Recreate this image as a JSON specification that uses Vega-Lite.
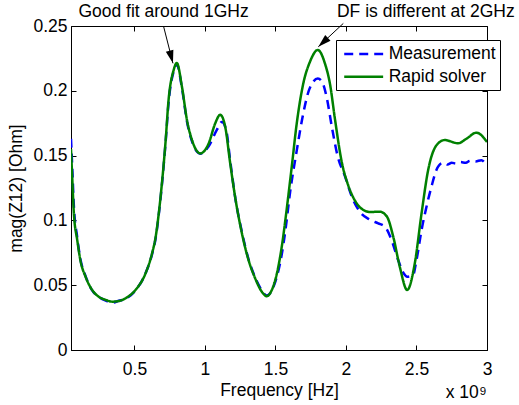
{
  "$schema": "https://vega.github.io/schema/vega-lite/v6.json",
  "width": 416,
  "height": 324,
  "autosize": {"type": "none"},
  "padding": {"left": 71, "top": 26, "right": 32, "bottom": 55},
  "background": "white",
  "config": {
    "font": "Liberation Sans",
    "view": {"stroke": "black", "strokeWidth": 1},
    "axis": {
      "labelFont": "Liberation Sans",
      "titleFont": "Liberation Sans",
      "labelFontSize": 17.5,
      "titleFontSize": 17.5,
      "titleFontWeight": "normal",
      "labelColor": "black",
      "titleColor": "black",
      "domainColor": "black",
      "ticks": false,
      "labelFlush": false,
      "grid": true,
      "gridColor": "black",
      "gridOpacity": 1,
      "gridWidth": 1
    },
    "legend": {
      "labelFont": "Liberation Sans",
      "labelFontSize": 17.5,
      "labelColor": "black"
    }
  },
  "datasets": {
    "curves": [
      {"freq": 0.05, "mag": 0.163, "series": "Measurement"},
      {"freq": 0.06, "mag": 0.138, "series": "Measurement"},
      {"freq": 0.07, "mag": 0.112, "series": "Measurement"},
      {"freq": 0.094, "mag": 0.087, "series": "Measurement"},
      {"freq": 0.117, "mag": 0.07, "series": "Measurement"},
      {"freq": 0.153, "mag": 0.057, "series": "Measurement"},
      {"freq": 0.2, "mag": 0.046, "series": "Measurement"},
      {"freq": 0.247, "mag": 0.041, "series": "Measurement"},
      {"freq": 0.3, "mag": 0.038, "series": "Measurement"},
      {"freq": 0.342, "mag": 0.0365, "series": "Measurement"},
      {"freq": 0.39, "mag": 0.038, "series": "Measurement"},
      {"freq": 0.436, "mag": 0.0395, "series": "Measurement"},
      {"freq": 0.507, "mag": 0.046, "series": "Measurement"},
      {"freq": 0.578, "mag": 0.059, "series": "Measurement"},
      {"freq": 0.625, "mag": 0.074, "series": "Measurement"},
      {"freq": 0.65, "mag": 0.086, "series": "Measurement"},
      {"freq": 0.672, "mag": 0.104, "series": "Measurement"},
      {"freq": 0.696, "mag": 0.129, "series": "Measurement"},
      {"freq": 0.72, "mag": 0.159, "series": "Measurement"},
      {"freq": 0.742, "mag": 0.191, "series": "Measurement"},
      {"freq": 0.778, "mag": 0.215, "series": "Measurement"},
      {"freq": 0.8, "mag": 0.2205, "series": "Measurement"},
      {"freq": 0.837, "mag": 0.202, "series": "Measurement"},
      {"freq": 0.873, "mag": 0.176, "series": "Measurement"},
      {"freq": 0.908, "mag": 0.161, "series": "Measurement"},
      {"freq": 0.967, "mag": 0.1515, "series": "Measurement"},
      {"freq": 1.025, "mag": 0.157, "series": "Measurement"},
      {"freq": 1.085, "mag": 0.17, "series": "Measurement"},
      {"freq": 1.12, "mag": 0.176, "series": "Measurement"},
      {"freq": 1.15, "mag": 0.17, "series": "Measurement"},
      {"freq": 1.179, "mag": 0.146, "series": "Measurement"},
      {"freq": 1.214, "mag": 0.118, "series": "Measurement"},
      {"freq": 1.262, "mag": 0.091, "series": "Measurement"},
      {"freq": 1.309, "mag": 0.07, "series": "Measurement"},
      {"freq": 1.356, "mag": 0.056, "series": "Measurement"},
      {"freq": 1.403, "mag": 0.046, "series": "Measurement"},
      {"freq": 1.439, "mag": 0.042, "series": "Measurement"},
      {"freq": 1.474, "mag": 0.046, "series": "Measurement"},
      {"freq": 1.51, "mag": 0.0566, "series": "Measurement"},
      {"freq": 1.545, "mag": 0.074, "series": "Measurement"},
      {"freq": 1.57, "mag": 0.092, "series": "Measurement"},
      {"freq": 1.604, "mag": 0.122, "series": "Measurement"},
      {"freq": 1.651, "mag": 0.154, "series": "Measurement"},
      {"freq": 1.698, "mag": 0.183, "series": "Measurement"},
      {"freq": 1.733, "mag": 0.199, "series": "Measurement"},
      {"freq": 1.768, "mag": 0.207, "series": "Measurement"},
      {"freq": 1.8, "mag": 0.2095, "series": "Measurement"},
      {"freq": 1.83, "mag": 0.207, "series": "Measurement"},
      {"freq": 1.863, "mag": 0.195, "series": "Measurement"},
      {"freq": 1.9, "mag": 0.172, "series": "Measurement"},
      {"freq": 1.94, "mag": 0.15, "series": "Measurement"},
      {"freq": 1.993, "mag": 0.134, "series": "Measurement"},
      {"freq": 2.05, "mag": 0.116, "series": "Measurement"},
      {"freq": 2.1, "mag": 0.1065, "series": "Measurement"},
      {"freq": 2.17, "mag": 0.1005, "series": "Measurement"},
      {"freq": 2.229, "mag": 0.0977, "series": "Measurement"},
      {"freq": 2.276, "mag": 0.0951, "series": "Measurement"},
      {"freq": 2.323, "mag": 0.0849, "series": "Measurement"},
      {"freq": 2.37, "mag": 0.0694, "series": "Measurement"},
      {"freq": 2.41, "mag": 0.059, "series": "Measurement"},
      {"freq": 2.434, "mag": 0.0566, "series": "Measurement"},
      {"freq": 2.476, "mag": 0.0579, "series": "Measurement"},
      {"freq": 2.5, "mag": 0.0694, "series": "Measurement"},
      {"freq": 2.536, "mag": 0.0926, "series": "Measurement"},
      {"freq": 2.571, "mag": 0.1106, "series": "Measurement"},
      {"freq": 2.606, "mag": 0.126, "series": "Measurement"},
      {"freq": 2.642, "mag": 0.139, "series": "Measurement"},
      {"freq": 2.677, "mag": 0.144, "series": "Measurement"},
      {"freq": 2.7, "mag": 0.1445, "series": "Measurement"},
      {"freq": 2.72, "mag": 0.1432, "series": "Measurement"},
      {"freq": 2.75, "mag": 0.1445, "series": "Measurement"},
      {"freq": 2.78, "mag": 0.1438, "series": "Measurement"},
      {"freq": 2.81, "mag": 0.145, "series": "Measurement"},
      {"freq": 2.85, "mag": 0.1445, "series": "Measurement"},
      {"freq": 2.88, "mag": 0.146, "series": "Measurement"},
      {"freq": 2.92, "mag": 0.1455, "series": "Measurement"},
      {"freq": 2.96, "mag": 0.1465, "series": "Measurement"},
      {"freq": 2.98, "mag": 0.145, "series": "Measurement"},
      {"freq": 3.0, "mag": 0.1414, "series": "Measurement"},

      {"freq": 0.05, "mag": 0.155, "series": "Rapid solver"},
      {"freq": 0.06, "mag": 0.13, "series": "Rapid solver"},
      {"freq": 0.07, "mag": 0.106, "series": "Rapid solver"},
      {"freq": 0.094, "mag": 0.085, "series": "Rapid solver"},
      {"freq": 0.117, "mag": 0.069, "series": "Rapid solver"},
      {"freq": 0.153, "mag": 0.0566, "series": "Rapid solver"},
      {"freq": 0.2, "mag": 0.0463, "series": "Rapid solver"},
      {"freq": 0.247, "mag": 0.0411, "series": "Rapid solver"},
      {"freq": 0.3, "mag": 0.0385, "series": "Rapid solver"},
      {"freq": 0.342, "mag": 0.0373, "series": "Rapid solver"},
      {"freq": 0.39, "mag": 0.0378, "series": "Rapid solver"},
      {"freq": 0.436, "mag": 0.0399, "series": "Rapid solver"},
      {"freq": 0.507, "mag": 0.0463, "series": "Rapid solver"},
      {"freq": 0.578, "mag": 0.059, "series": "Rapid solver"},
      {"freq": 0.625, "mag": 0.0746, "series": "Rapid solver"},
      {"freq": 0.65, "mag": 0.087, "series": "Rapid solver"},
      {"freq": 0.672, "mag": 0.105, "series": "Rapid solver"},
      {"freq": 0.696, "mag": 0.13, "series": "Rapid solver"},
      {"freq": 0.72, "mag": 0.16, "series": "Rapid solver"},
      {"freq": 0.742, "mag": 0.193, "series": "Rapid solver"},
      {"freq": 0.778, "mag": 0.216, "series": "Rapid solver"},
      {"freq": 0.8, "mag": 0.2215, "series": "Rapid solver"},
      {"freq": 0.837, "mag": 0.203, "series": "Rapid solver"},
      {"freq": 0.873, "mag": 0.177, "series": "Rapid solver"},
      {"freq": 0.908, "mag": 0.162, "series": "Rapid solver"},
      {"freq": 0.967, "mag": 0.1517, "series": "Rapid solver"},
      {"freq": 1.025, "mag": 0.159, "series": "Rapid solver"},
      {"freq": 1.073, "mag": 0.175, "series": "Rapid solver"},
      {"freq": 1.108, "mag": 0.1815, "series": "Rapid solver"},
      {"freq": 1.144, "mag": 0.172, "series": "Rapid solver"},
      {"freq": 1.179, "mag": 0.144, "series": "Rapid solver"},
      {"freq": 1.214, "mag": 0.118, "series": "Rapid solver"},
      {"freq": 1.262, "mag": 0.09, "series": "Rapid solver"},
      {"freq": 1.309, "mag": 0.0694, "series": "Rapid solver"},
      {"freq": 1.356, "mag": 0.0553, "series": "Rapid solver"},
      {"freq": 1.403, "mag": 0.045, "series": "Rapid solver"},
      {"freq": 1.439, "mag": 0.0415, "series": "Rapid solver"},
      {"freq": 1.474, "mag": 0.0463, "series": "Rapid solver"},
      {"freq": 1.51, "mag": 0.059, "series": "Rapid solver"},
      {"freq": 1.545, "mag": 0.08, "series": "Rapid solver"},
      {"freq": 1.58, "mag": 0.109, "series": "Rapid solver"},
      {"freq": 1.616, "mag": 0.142, "series": "Rapid solver"},
      {"freq": 1.651, "mag": 0.175, "series": "Rapid solver"},
      {"freq": 1.698, "mag": 0.206, "series": "Rapid solver"},
      {"freq": 1.745, "mag": 0.2225, "series": "Rapid solver"},
      {"freq": 1.8, "mag": 0.2315, "series": "Rapid solver"},
      {"freq": 1.851, "mag": 0.221, "series": "Rapid solver"},
      {"freq": 1.887, "mag": 0.205, "series": "Rapid solver"},
      {"freq": 1.922, "mag": 0.178, "series": "Rapid solver"},
      {"freq": 1.97, "mag": 0.145, "series": "Rapid solver"},
      {"freq": 2.016, "mag": 0.127, "series": "Rapid solver"},
      {"freq": 2.06, "mag": 0.116, "series": "Rapid solver"},
      {"freq": 2.1, "mag": 0.11, "series": "Rapid solver"},
      {"freq": 2.17, "mag": 0.1065, "series": "Rapid solver"},
      {"freq": 2.24, "mag": 0.1067, "series": "Rapid solver"},
      {"freq": 2.29, "mag": 0.103, "series": "Rapid solver"},
      {"freq": 2.335, "mag": 0.0875, "series": "Rapid solver"},
      {"freq": 2.382, "mag": 0.064, "series": "Rapid solver"},
      {"freq": 2.434, "mag": 0.0463, "series": "Rapid solver"},
      {"freq": 2.488, "mag": 0.0669, "series": "Rapid solver"},
      {"freq": 2.536, "mag": 0.1055, "series": "Rapid solver"},
      {"freq": 2.583, "mag": 0.139, "series": "Rapid solver"},
      {"freq": 2.642, "mag": 0.158, "series": "Rapid solver"},
      {"freq": 2.7, "mag": 0.162, "series": "Rapid solver"},
      {"freq": 2.795, "mag": 0.1595, "series": "Rapid solver"},
      {"freq": 2.854, "mag": 0.163, "series": "Rapid solver"},
      {"freq": 2.925, "mag": 0.1677, "series": "Rapid solver"},
      {"freq": 3.0, "mag": 0.1605, "series": "Rapid solver"}
    ],
    "notes": [
      {"freq": 0.706, "mag": 0.2608, "label": "Good fit around 1GHz"},
      {"freq": 2.566, "mag": 0.2608, "label": "DF is different at 2GHz"}
    ],
    "arrows": [
      {"freq": 0.707, "mag": 0.2495, "freq2": 0.773, "mag2": 0.2212},
      {"freq": 1.981, "mag": 0.252, "freq2": 1.804, "mag2": 0.234}
    ],
    "exponent": [
      {"freq": 2.707, "mag": -0.037, "label": "x 10"}
    ],
    "power": [
      {"freq": 2.948, "mag": -0.0347, "label": "9"}
    ]
  },
  "encoding": {
    "x": {
      "field": "freq", "type": "quantitative",
      "scale": {"domain": [0.05, 3], "nice": false, "zero": false},
      "axis": {"orient": "bottom", "values": [0.5, 1, 1.5, 2, 2.5, 3], "format": "~g", "title": "Frequency [Hz]", "labelPadding": 10, "titlePadding": 4, "gridDash": [5, 314, 5, 0]}
    },
    "y": {
      "field": "mag", "type": "quantitative",
      "scale": {"domain": [0, 0.25], "nice": false, "zero": false},
      "axis": {"orient": "left", "values": [0, 0.05, 0.1, 0.15, 0.2, 0.25], "format": "~g", "title": "mag(Z12) [Ohm]", "labelPadding": 4, "titleX": -46, "titleY": 162, "titleAngle": -90, "titleBaseline": "bottom", "titleAlign": "center", "gridDash": [5, 406, 5, 0]}
    }
  },
  "layer": [
    {
      "data": {"name": "curves"},
      "mark": {"type": "line", "interpolate": "monotone", "strokeWidth": 2.5, "clip": true},
      "encoding": {
        "color": {
          "field": "series", "type": "nominal",
          "scale": {"domain": ["Measurement", "Rapid solver"], "range": ["#0000ff", "#008000"]},
          "legend": {"title": null, "orient": "none", "legendX": 265, "legendY": 14, "fillColor": "white", "strokeColor": "black", "padding": 4, "symbolType": "M-0.68,0L3.9,0", "symbolSize": 289, "symbolStrokeWidth": 2.5, "labelOffset": 28.7, "rowPadding": 3.7}
        },
        "strokeDash": {
          "field": "series", "type": "nominal",
          "scale": {"domain": ["Measurement", "Rapid solver"], "range": [[9, 6], [1, 0]]},
          "legend": {"title": null, "orient": "none", "legendX": 265, "legendY": 14, "fillColor": "white", "strokeColor": "black", "padding": 4, "symbolType": "M-0.68,0L3.9,0", "symbolSize": 289, "symbolStrokeWidth": 2.5, "labelOffset": 28.7, "rowPadding": 3.7}
        }
      }
    },
    {
      "data": {"name": "notes"},
      "mark": {"type": "text", "fontSize": 17.5, "font": "Liberation Sans", "align": "center", "baseline": "middle", "color": "black"},
      "encoding": {
        "text": {"field": "label"}
      }
    },
    {
      "data": {"name": "arrows"},
      "mark": {"type": "rule", "color": "black", "strokeWidth": 1},
      "encoding": {
        "x2": {"field": "freq2"},
        "y2": {"field": "mag2"}
      }
    },
    {
      "data": {"values": [{"freq": 0.773, "mag": 0.2212}]},
      "mark": {"type": "point", "shape": "M0,0L-0.6,-2L0.6,-2Z", "filled": true, "color": "black", "size": 169, "angle": 345, "opacity": 1},
      "encoding": {}
    },
    {
      "data": {"values": [{"freq": 1.804, "mag": 0.234}]},
      "mark": {"type": "point", "shape": "M0,0L-0.6,-2L0.6,-2Z", "filled": true, "color": "black", "size": 169, "angle": 47, "opacity": 1},
      "encoding": {}
    },
    {
      "data": {"name": "exponent"},
      "mark": {"type": "text", "fontSize": 17.5, "font": "Liberation Sans", "align": "left", "baseline": "alphabetic", "color": "black"},
      "encoding": {
        "text": {"field": "label"}
      }
    },
    {
      "data": {"name": "power"},
      "mark": {"type": "text", "fontSize": 11.5, "font": "Liberation Sans", "align": "left", "baseline": "alphabetic", "color": "black"},
      "encoding": {
        "text": {"field": "label"}
      }
    }
  ]
}
